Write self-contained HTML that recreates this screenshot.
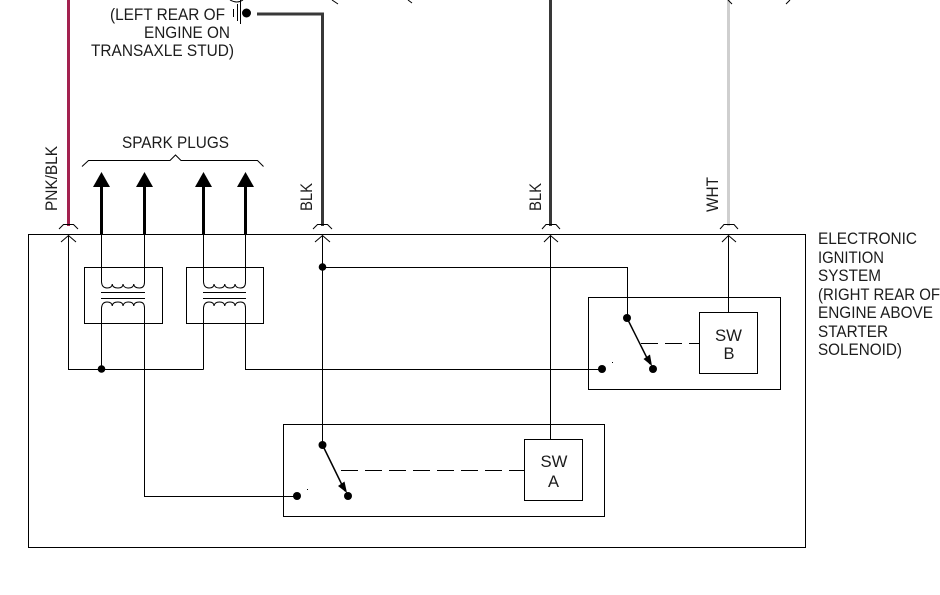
<!DOCTYPE html>
<html><head><meta charset="utf-8"><style>
html,body{margin:0;padding:0;background:#fff;width:940px;height:595px;overflow:hidden}
svg{display:block}
text{font-family:"Liberation Sans",sans-serif;font-size:16.5px;fill:#1c1c1c}
.l{fill:none;stroke:#000;stroke-width:1}
</style></head><body>
<svg width="940" height="595" viewBox="0 0 940 595" xmlns="http://www.w3.org/2000/svg">
<!-- wires -->
<path d="M68.500 0V226" fill="none" stroke="#a3214f" stroke-width="3"/>
<path d="M257 14H322.500V226" fill="none" stroke="#383838" stroke-width="3"/>
<path d="M550.500 0V226" fill="none" stroke="#383838" stroke-width="3"/>
<path d="M728.500 0V226" fill="none" stroke="#cfcfcf" stroke-width="3"/>
<!-- main box -->
<rect class="l" x="28.500" y="234.500" width="777" height="313"/>
<!-- connector caps and arrows -->
<g class="l" stroke-width="1.200">
<path d="M59 229L63.500 224.500H73.500L78 229"/><path d="M61 242L68.500 235.500L76 242"/>
<path d="M313 229L317.500 224.500H327.500L332 229"/><path d="M315 242L322.500 235.500L330 242"/>
<path d="M542 229L546 224.500H556L560 229"/><path d="M544 242L550.500 235.500L558 242"/>
<path d="M720 229L724 224.500H734L738 229"/><path d="M722 242L728.500 235.500L736 242"/>
</g>
<!-- spark plug arrows -->
<g stroke="#000" stroke-width="3"><path d="M101.500 234V185M144.500 234V185M203.500 234V185M245.500 234V185"/></g>
<g fill="#000">
<path d="M101.500 172L110 187H93Z"/><path d="M144.500 172L153 187H136Z"/><path d="M203.500 172L212 187H195Z"/><path d="M245.500 172L254 187H237Z"/>
</g>
<path class="l" stroke-width="1.200" d="M82 166.500L88.500 160.500H170L175.500 155L181 160.500H257.500L263.500 166.500"/>
<!-- coil boxes -->
<rect class="l" x="84.500" y="267.500" width="78" height="56"/>
<rect class="l" x="186.500" y="267.500" width="77" height="56"/>
<g class="l">
<!-- coil 1 -->
<path d="M101.500 234V282Q102 288 107 288Q112 288 112.250 284Q112.500 288 118 288Q123 288 123 284Q123.500 288 128.500 288Q133.500 288 133.750 284Q134 288 139.500 288Q144.500 288 144.500 282V234"/>
<path d="M101 292.500H145M101 298.500H145"/>
<path d="M101.500 369V308Q102 302 107 302Q112 302 112.250 306Q112.500 302 118 302Q123 302 123 306Q123.500 302 128.500 302Q133.500 302 133.750 306Q134 302 139.500 302Q144.500 302 144.500 308V496.500H297"/>
<!-- coil 2 -->
<path d="M203.500 234V282Q204 288 209 288Q214 288 214 284Q214.500 288 219.500 288Q224.500 288 224.750 284Q225 288 230 288Q235 288 235 284Q235.500 288 240.500 288Q245.500 288 245.500 282V234"/>
<path d="M203 292.500H246M203 298.500H246"/>
<path d="M203.500 369.500V308Q204 302 209 302Q214 302 214 306Q214.500 302 219.500 302Q224.500 302 224.750 306Q225 302 230 302Q235 302 235 306Q235.500 302 240.500 302Q245.500 302 245.500 308V369.500H602"/>
<path d="M68.500 236V369.500H203.500"/>
<!-- through wires -->
<path d="M322.500 236V445"/>
<path d="M322.500 267.500H627.500V318"/>
<path d="M550.500 236V439"/>
<path d="M728.500 236V312"/>
</g>
<circle cx="101.500" cy="369" r="3.800"/>
<circle cx="322.500" cy="267" r="3.800"/>
<!-- switch B -->
<rect class="l" x="588.500" y="297.500" width="192" height="92"/>
<rect class="l" x="699.500" y="312.500" width="58" height="61"/>
<circle cx="627" cy="318" r="4"/><circle cx="602" cy="369" r="4"/><circle cx="653" cy="369" r="4"/>
<path d="M627 318L650 364" stroke="#000" stroke-width="1.500" fill="none"/>
<path d="M652 366L643.500 359L650 354.500Z" fill="#000"/>
<path d="M641 343.500H699.500" fill="none" stroke="#000" stroke-width="1" stroke-dasharray="17 7"/>
<rect x="612" y="362" width="1" height="1"/>
<text x="728.500" y="341" text-anchor="middle" textLength="27" lengthAdjust="spacingAndGlyphs">SW</text>
<text x="729" y="359" text-anchor="middle">B</text>
<!-- switch A -->
<rect class="l" x="283.500" y="424.500" width="321" height="92"/>
<rect class="l" x="524.500" y="439.500" width="58" height="61"/>
<circle cx="322.500" cy="445" r="4"/><circle cx="297" cy="496" r="4"/><circle cx="348" cy="496" r="4"/>
<path d="M322.500 445L345 491" stroke="#000" stroke-width="1.500" fill="none"/>
<path d="M347 493L338 486L344.500 481.500Z" fill="#000"/>
<path d="M341 470.500H524.500" fill="none" stroke="#000" stroke-width="1" stroke-dasharray="17 7"/>
<rect x="307" y="489" width="1" height="1"/>
<text x="554" y="467" text-anchor="middle" textLength="27" lengthAdjust="spacingAndGlyphs">SW</text>
<text x="553.500" y="487" text-anchor="middle">A</text>
<!-- ground symbol -->
<path class="l" d="M233.500 9V17M237.500 4V21M240.500 0V24"/>
<circle cx="246.500" cy="13" r="4.500"/>
<!-- clipped upper text fragments -->
<path class="l" d="M230 0Q237 4 243 0M332 0Q335 2 338 4M408 0L412 3M728 0L732 4M790 0L786 4"/>
<!-- labels -->
<text x="110" y="20" textLength="115" lengthAdjust="spacingAndGlyphs">(LEFT REAR OF</text>
<text x="144" y="38" textLength="86" lengthAdjust="spacingAndGlyphs">ENGINE ON</text>
<text x="91" y="56" textLength="143" lengthAdjust="spacingAndGlyphs">TRANSAXLE STUD)</text>
<text x="122" y="148" textLength="107" lengthAdjust="spacingAndGlyphs">SPARK PLUGS</text>
<text transform="translate(57 211) rotate(-90)" textLength="65" lengthAdjust="spacingAndGlyphs">PNK/BLK</text>
<text transform="translate(312 211) rotate(-90)" textLength="28" lengthAdjust="spacingAndGlyphs">BLK</text>
<text transform="translate(541 211) rotate(-90)" textLength="28" lengthAdjust="spacingAndGlyphs">BLK</text>
<text transform="translate(718 212) rotate(-90)" textLength="35" lengthAdjust="spacingAndGlyphs">WHT</text>
<text x="818" y="244" textLength="99" lengthAdjust="spacingAndGlyphs">ELECTRONIC</text>
<text x="818" y="263" textLength="66" lengthAdjust="spacingAndGlyphs">IGNITION</text>
<text x="818" y="281" textLength="63" lengthAdjust="spacingAndGlyphs">SYSTEM</text>
<text x="818" y="300" textLength="122" lengthAdjust="spacingAndGlyphs">(RIGHT REAR OF</text>
<text x="818" y="318" textLength="115" lengthAdjust="spacingAndGlyphs">ENGINE ABOVE</text>
<text x="818" y="337" textLength="70" lengthAdjust="spacingAndGlyphs">STARTER</text>
<text x="818" y="355" textLength="84" lengthAdjust="spacingAndGlyphs">SOLENOID)</text>
</svg>
</body></html>
